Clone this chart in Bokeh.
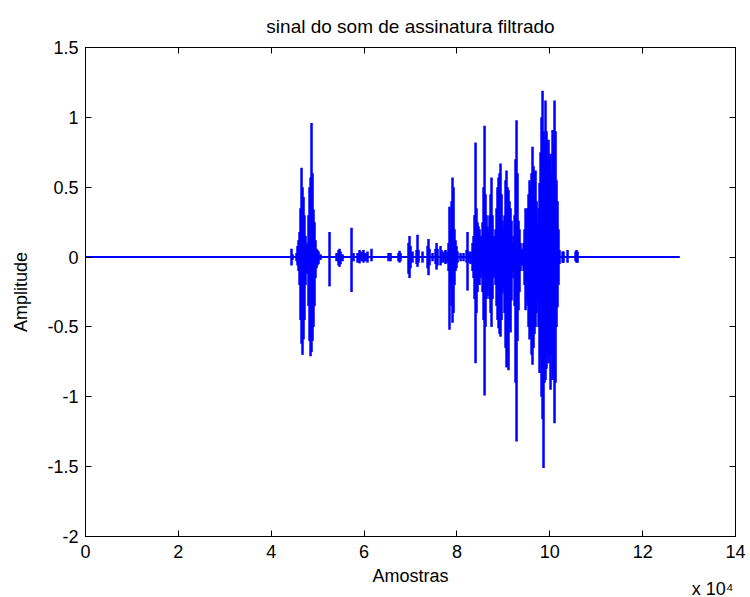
from bokeh.plotting import figure
from bokeh.models import Range1d, FixedTicker, LinearAxis, Title, ColumnDataSource
from bokeh.embed import file_html
from bokeh.resources import INLINE

# ---- data ----
n_amostras = 128000
baseline_x = [1, n_amostras]
baseline_y = [0.0, 0.0]

# envelope columns: sample index, local maximum, local minimum
col_x = [44370, 44590, 45450, 45660, 45880, 46100, 46310, 46530, 46740, 46960,
         47170, 47390, 47600, 47820, 48030, 48250, 48470, 48680, 48900, 49110,
         49330, 49540, 49760, 49970, 50190, 50620, 52560, 54070, 54500, 54710,
         54930, 55360, 57300, 57730, 58590, 59020, 59450, 59880, 60310, 60740,
         61600, 65270, 65700, 67420, 67640, 67850, 69570, 69790, 70010, 70440,
         71300, 71510, 71730, 72590, 73670, 73880, 74100, 74740, 75390, 75610,
         75820, 76470, 76680, 77110, 77540, 77970, 78190, 78400, 78620, 78840,
         79050, 79270, 79480, 79700, 79910, 80130, 80780, 81420, 82070, 82280,
         82500, 82930, 83360, 83580, 83790, 84010, 84220, 84440, 84650, 84870,
         85080, 85300, 85510, 85730, 85950, 86160, 86380, 86590, 86810, 87020,
         87240, 87450, 87670, 87880, 88100, 88310, 88530, 88740, 88960, 89180,
         89390, 89610, 89820, 90040, 90250, 90470, 90680, 90900, 91110, 91330,
         91550, 91760, 91980, 92190, 92410, 92620, 92840, 93050, 93270, 93480,
         93700, 93910, 94130, 94350, 94560, 94780, 94990, 95210, 95420, 95640,
         95850, 96070, 96280, 96500, 96710, 96930, 97150, 97360, 97580, 97790,
         98010, 98220, 98440, 98650, 98870, 99080, 99300, 99510, 99730, 99940,
         100160, 100380, 100590, 100810, 101020, 101240, 101450, 101670, 101880, 102100,
         102750, 102960, 103820, 105550, 105760, 105980]
col_hi = [0.06, 0.02, 0.03, 0.08, 0.12, 0.18, 0.35, 0.64, 0.50, 0.43,
          0.30, 0.15, 0.08, 0.10, 0.30, 0.50, 0.57, 0.96, 0.60, 0.34,
          0.25, 0.12, 0.06, 0.05, 0.04, 0.02, 0.18, 0.03, 0.05, 0.06,
          0.04, 0.02, 0.21, 0.03, 0.03, 0.05, 0.04, 0.05, 0.03, 0.04,
          0.06, 0.03, 0.03, 0.03, 0.045, 0.03, 0.10, 0.15, 0.08, 0.04,
          0.05, 0.16, 0.05, 0.04, 0.08, 0.13, 0.06, 0.03, 0.06, 0.10,
          0.06, 0.08, 0.05, 0.04, 0.05, 0.04, 0.10, 0.36, 0.20, 0.40,
          0.57, 0.50, 0.20, 0.12, 0.08, 0.04, 0.03, 0.03, 0.05, 0.18,
          0.04, 0.04, 0.10, 0.15, 0.30, 0.82, 0.35, 0.25, 0.22, 0.20,
          0.15, 0.15, 0.25, 0.50, 0.94, 0.45, 0.30, 0.22, 0.18, 0.30,
          0.45, 0.57, 0.30, 0.15, 0.15, 0.20, 0.35, 0.50, 0.57, 0.60,
          0.67, 0.45, 0.26, 0.20, 0.30, 0.55, 0.62, 0.50, 0.48, 0.40,
          0.35, 0.26, 0.10, 0.15, 0.30, 0.70, 0.98, 0.60, 0.26, 0.20,
          0.10, 0.05, 0.06, 0.10, 0.20, 0.35, 0.30, 0.35, 0.45, 0.55,
          0.50, 0.60, 0.79, 0.65, 0.60, 0.62, 0.40, 0.24, 0.35, 0.53,
          0.75, 1.00, 1.19, 0.90, 0.80, 1.12, 0.90, 0.70, 0.84, 0.70,
          0.74, 0.60, 0.91, 0.80, 1.12, 0.90, 0.55, 0.40, 0.20, 0.05,
          0.04, 0.04, 0.05, 0.04, 0.05, 0.04]
col_lo = [-0.06, -0.02, -0.03, -0.06, -0.10, -0.20, -0.45, -0.62, -0.70, -0.59,
          -0.45, -0.20, -0.10, -0.12, -0.35, -0.60, -0.71, -0.68, -0.60, -0.50,
          -0.35, -0.15, -0.08, -0.06, -0.05, -0.02, -0.21, -0.03, -0.06, -0.07,
          -0.05, -0.03, -0.25, -0.03, -0.04, -0.045, -0.03, -0.04, -0.03, -0.04,
          -0.03, -0.03, -0.03, -0.03, -0.04, -0.03, -0.12, -0.15, -0.08, -0.04,
          -0.05, -0.07, -0.04, -0.04, -0.08, -0.13, -0.06, -0.03, -0.05, -0.09,
          -0.06, -0.06, -0.04, -0.04, -0.05, -0.04, -0.10, -0.52, -0.20, -0.35,
          -0.47, -0.40, -0.20, -0.10, -0.08, -0.04, -0.03, -0.03, -0.04, -0.24,
          -0.04, -0.05, -0.10, -0.15, -0.30, -0.76, -0.40, -0.25, -0.20, -0.20,
          -0.15, -0.12, -0.25, -0.45, -0.99, -0.50, -0.30, -0.28, -0.20, -0.30,
          -0.40, -0.50, -0.30, -0.15, -0.12, -0.20, -0.35, -0.45, -0.51, -0.55,
          -0.57, -0.45, -0.26, -0.22, -0.40, -0.65, -0.79, -0.70, -0.81, -0.50,
          -0.54, -0.31, -0.10, -0.15, -0.35, -0.90, -1.32, -0.60, -0.38, -0.25,
          -0.10, -0.05, -0.06, -0.10, -0.20, -0.38, -0.30, -0.35, -0.50, -0.59,
          -0.55, -0.70, -0.77, -0.65, -0.55, -0.50, -0.40, -0.31, -0.50, -0.83,
          -0.70, -1.00, -1.16, -1.51, -0.90, -0.88, -0.80, -0.70, -0.76, -0.70,
          -0.95, -0.70, -0.88, -0.80, -1.19, -0.90, -0.50, -0.36, -0.20, -0.05,
          -0.04, -0.04, -0.04, -0.03, -0.04, -0.04]

x_ticks = [0, 20000, 40000, 60000, 80000, 100000, 120000, 140000]
x_tick_labels = ["0", "2", "4", "6", "8", "10", "12", "14"]
y_ticks = [-2, -1.5, -1, -0.5, 0, 0.5, 1, 1.5]
y_tick_labels = ["-2", "-1.5", "-1", "-0.5", "0", "0.5", "1", "1.5"]
x_multiplier = "x 10\u2074"

FONT = "Liberation Sans"
FS = "18px"
BLUE = "#0000FF"

p = figure(width=750, height=597, output_backend="svg", toolbar_location=None,
           x_range=Range1d(0, 140000), y_range=Range1d(-2, 1.5),
           min_border_left=85, min_border_right=15, min_border_top=47, min_border_bottom=61)
p.background_fill_color = "white"
p.border_fill_color = "white"
p.outline_line_color = "black"
p.outline_line_width = 1
p.grid.visible = False

p.title.text = "sinal do som de assinatura filtrado"
p.title.align = "center"
p.title.text_font = FONT
p.title.text_font_size = "19px"
p.title.text_font_style = "normal"
p.title.text_color = "black"
p.title.standoff = 22

def style_axis(ax, ticks, labels, show_labels=True):
    ax.ticker = FixedTicker(ticks=ticks, minor_ticks=[])
    ax.major_tick_in = 6
    ax.major_tick_out = 0
    ax.minor_tick_in = 0
    ax.minor_tick_out = 0
    ax.axis_line_color = "black"
    ax.major_tick_line_color = "black"
    ax.major_label_text_font = FONT
    ax.major_label_text_color = "black"
    ax.axis_label_text_color = "black"
    if show_labels:
        ax.major_label_overrides = {t: l for t, l in zip(ticks, labels)}
        ax.major_label_text_font_size = FS
    else:
        ax.major_label_overrides = {t: "" for t in ticks}
        ax.major_label_text_font_size = "0px"
        ax.major_label_standoff = 0

xa = p.xaxis[0]
style_axis(xa, x_ticks, x_tick_labels)
xa.major_label_standoff = 8
xa.axis_label = "Amostras"
xa.axis_label_text_font = FONT
xa.axis_label_text_font_size = FS
xa.axis_label_text_font_style = "normal"
xa.axis_label_standoff = 5

ya = p.yaxis[0]
style_axis(ya, y_ticks, y_tick_labels)
ya.major_label_standoff = 7
ya.axis_label = "Amplitude"
ya.axis_label_text_font = FONT
ya.axis_label_text_font_size = FS
ya.axis_label_text_font_style = "normal"
ya.axis_label_standoff = 13

top = LinearAxis()
style_axis(top, x_ticks, x_tick_labels, show_labels=False)
p.add_layout(top, "above")
right = LinearAxis()
style_axis(right, y_ticks, y_tick_labels, show_labels=False)
p.add_layout(right, "right")

# x 10^4 multiplier under the right end of the x axis
mult = Title(text=x_multiplier, align="right", vertical_align="top", offset=2,
             standoff=-20, text_font=FONT, text_font_size=FS,
             text_font_style="normal", text_color="black")
p.add_layout(mult, "below")

# baseline of the signal
p.line(baseline_x, baseline_y, color=BLUE, line_width=2)
# envelope columns
src = ColumnDataSource(dict(x=col_x, hi=col_hi, lo=col_lo))
p.segment(x0="x", y0="lo", x1="x", y1="hi", source=src, color=BLUE, line_width=2.5)

open("out.html", "w").write(file_html(p, INLINE))
